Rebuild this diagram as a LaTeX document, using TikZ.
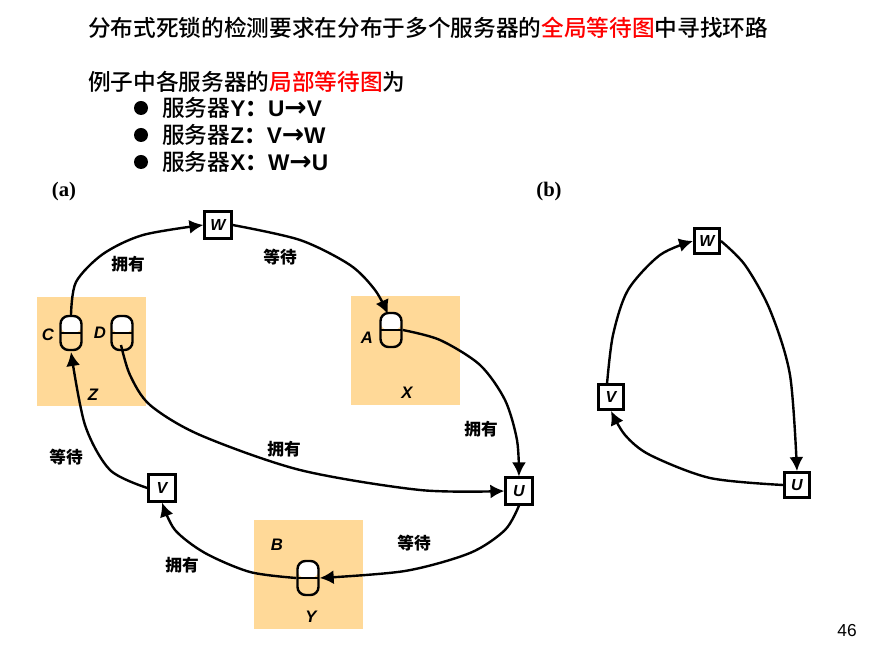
\documentclass[tikz,border=0pt]{standalone}
\usepackage{fontspec}
\setmainfont{Liberation Sans}
\newfontfamily\cjk{Noto Sans CJK SC Medium}
\newfontfamily\cjkbold{Noto Sans CJK SC}
\newfontfamily\serifbf{Liberation Serif}
\newfontfamily\arrowfont{DejaVu Sans}
\usetikzlibrary{arrows.meta}
\definecolor{zonecolor}{HTML}{FFD998}
\newcommand{\rtext}[1]{\textcolor{red}{#1}}
\newcommand{\srvline}[3]{{\cjk 服务器}\textbf{#1}{\cjkbold\bfseries ：}\textbf{#2{\arrowfont\bfseries\fontsize{20}{20}\selectfont →}#3}}
\tikzset{
    zone/.style={fill=zonecolor, minimum size=81.75pt, inner sep=0pt},
    txn/.style={draw, line width=1.9pt, fill=white, minimum size=#1, inner sep=0pt,
        font=\fontsize{12}{12}\selectfont\bfseries\itshape},
    txn/.default=20pt,
    lockobj/.style={draw, line width=1.8pt, rounded corners=6pt, minimum width=15.75pt,
        minimum height=25.5pt, inner sep=0pt,
        path picture={
            \fill[white] (path picture bounding box.north west) rectangle (path picture bounding box.east);
            \draw[line width=1.5pt] (path picture bounding box.west) -- (path picture bounding box.east);
        }},
    lbl/.style={font=\fontsize{12.5}{13}\selectfont\bfseries\itshape, inner sep=0pt},
    rel/.style={font=\fontsize{12.5}{13}\selectfont\cjkbold\bfseries, inner sep=0pt},
    line/.style={font=\fontsize{17}{18}\selectfont, anchor=west, inner sep=0pt},
    dot/.style={circle, fill=black, minimum size=10.5pt, inner sep=0pt},
    link/.style={line width=1.8pt, -{Latex[length=10.5pt,width=10.5pt]}},
}
\begin{document}
\begin{tikzpicture}[x=0.75pt, y=-0.75pt]
    \useasboundingbox (0,0) rectangle (879,655);

    \node[line] (title) at (88,28) {\cjk 分布式死锁的检测要求在分布于多个服务器的\rtext{全局等待图}中寻找环路};
    \node[line] (sub) at (88,82) {\cjk 例子中各服务器的\rtext{局部等待图}为};
    \node[dot] (dotY) at (141,108) {};
    \node[dot] (dotZ) at (141,135) {};
    \node[dot] (dotX) at (141,162) {};
    \node[line] (srvY) at (162,108) {\srvline{Y}{U}{V}};
    \node[line] (srvZ) at (162,135) {\srvline{Z}{V}{W}};
    \node[line] (srvX) at (162,162) {\srvline{X}{W}{U}};
    \node[font=\fontsize{15.5}{16}\selectfont\serifbf\bfseries, inner sep=0pt] (parta) at (64,192) {(a)};
    \node[font=\fontsize{15.5}{16}\selectfont\serifbf\bfseries, inner sep=0pt] (partb) at (549,192) {(b)};

    \node[zone] (zoneZ) at (91.5,352) {};
    \node[zone] (zoneX) at (405.5,350.5) {};
    \node[zone] (zoneY) at (308.5,574.5) {};

    \node[txn] (W) at (218,225) {W};
    \node[txn] (V) at (162,488) {V};
    \node[txn] (U) at (519,491) {U};
    \node[lockobj] (C) at (71,333) {};
    \node[lockobj] (D) at (122,333) {};
    \node[lockobj] (A) at (391,330) {};
    \node[lockobj] (B) at (308,578) {};
    \coordinate (Dtail) at (121,345);
    \coordinate (Cin) at (71,352);
    \coordinate (Aend) at (388,314);

    \node[lbl] (lblC) at (48,335) {C};
    \node[lbl] (lblD) at (100,333) {D};
    \node[lbl] (lblA) at (367,338) {A};
    \node[lbl] (lblZ) at (93,395) {Z};
    \node[lbl] (lblX) at (407,393) {X};
    \node[lbl] (lblB) at (277,545) {B};
    \node[lbl] (lblY) at (311,617) {Y};

    \node[rel] (r1) at (128,264) {拥有};
    \node[rel] (r2) at (280,257) {等待};
    \node[rel] (r3) at (66,457) {等待};
    \node[rel] (r4) at (284,449) {拥有};
    \node[rel] (r5) at (481,429) {拥有};
    \node[rel] (r6) at (414,543) {等待};
    \node[rel] (r7) at (182,565) {拥有};

    \draw[link] plot[smooth, tension=0.5] coordinates {(C.north) (76,282) (103,254) (143,235) (W.west)};
    \draw[link] plot[smooth, tension=0.5] coordinates {(W.east) (300,240) (350,265) (375,290) (Aend)};
    \draw[link] plot[smooth, tension=0.5] coordinates {(A.east) (440,340) (480,365) (505,400) (517,440) (U.north)};
    \draw[link] plot[smooth, tension=0.5] coordinates {(Dtail) (130,375) (150,405) (200,435) (300,470) (420,490) (U.west)};
    \draw[link] plot[smooth, tension=0.5] coordinates {(U.south) (505,530) (470,553) (405,571) (B.east)};
    \draw[link] plot[smooth, tension=0.5] coordinates {(B.west) (250,572) (205,553) (175,530) (V.south)};
    \draw[link] plot[smooth, tension=0.5] coordinates {(V.west) (110,470) (85,425) (Cin)};

    \node[txn=19pt] (W2) at (707,241) {W};
    \node[txn=19pt] (V2) at (611,397) {V};
    \node[txn=19pt] (U2) at (797,485) {U};
    \coordinate (V2top) at (607,384);

    \draw[link] plot[smooth, tension=0.5] coordinates {(V2top) (613,335) (628,290) (660,255) (W2.west)};
    \draw[link] plot[smooth, tension=0.5] coordinates {(W2.east) (745,265) (770,310) (790,375) (U2.north)};
    \draw[link] plot[smooth, tension=0.5] coordinates {(U2.west) (710,478) (650,455) (625,435) (V2.south)};

    \node[font=\fontsize{13}{13}\selectfont, inner sep=0pt] (page) at (847,631) {46};
\end{tikzpicture}
\end{document}
